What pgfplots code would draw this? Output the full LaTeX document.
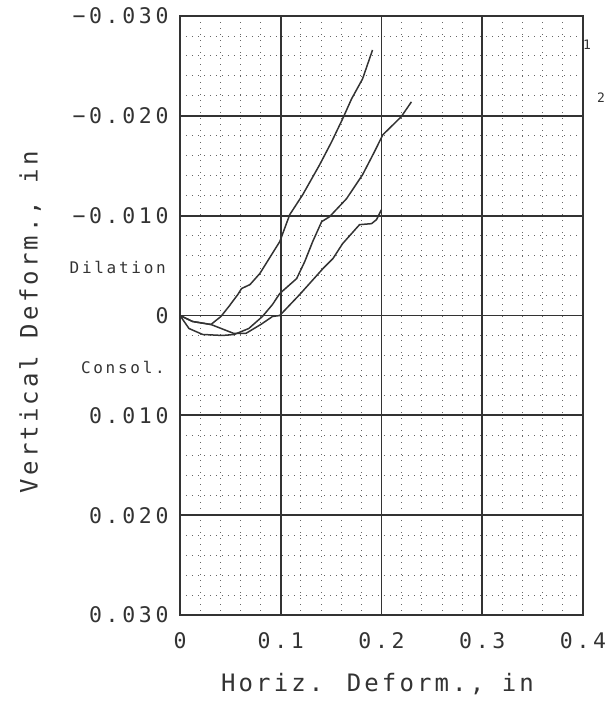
\documentclass[border=0pt]{standalone}
\usepackage{fontspec}
\usepackage{pgfplots}
\pgfplotsset{compat=1.18}
\newfontfamily\tickfont[LetterSpace=17]{DejaVu Sans Mono}
\newfontfamily\labfont[LetterSpace=13]{DejaVu Sans Mono}
\begin{document}
\begin{tikzpicture}
\path[use as bounding box] (-180bp,-87bp) rectangle (427bp,615bp);
\begin{axis}[
  at={(0,0)}, anchor=south west,
  scale only axis, width=403bp, height=599bp,
  xmin=0, xmax=0.4, ymin=-0.03, ymax=0.03,
  y dir=reverse,
  clip=false,
  scaled x ticks=false, scaled y ticks=false,
  xtick={0,0.1,0.2,0.3,0.4},
  xticklabels={0,0.1,0.2,0.3,0.4},
  ytick={-0.03,-0.02,-0.01,0,0.01,0.02,0.03},
  yticklabels={−0.030,−0.020,−0.010,0,0.010,0.020,0.030},
  minor x tick num=4, minor y tick num=4,
  major tick length=0pt, minor tick length=0pt,
  grid=both,
  major grid style={black!80, line width=1.7bp},
  minor grid style={black!60, line width=0.9bp, dash pattern=on 1.2bp off 4.8bp},
  axis line style={black!80, line width=1.9bp},
  ticklabel style={font=\tickfont\fontsize{21.5bp}{24bp}\selectfont, text=black!80},
  xticklabel style={yshift=-14bp},
  yticklabel style={xshift=-8bp},
  label style={font=\labfont\fontsize{24bp}{28bp}\selectfont, text=black!80},
  xlabel={Horiz. Deform., in},
  ylabel={Vertical Deform., in},
  xlabel style={at={(axis description cs:0.49,-0.115)}, anchor=center},
  ylabel style={at={(axis description cs:-0.372,0.489)}, anchor=center, rotate=0},
]
\addplot[black!80, line width=1.5bp] coordinates {
(0,0) (0.0125,0.0006) (0.0307,0.0009) (0.0406,0.0001) (0.0485,-0.0009)
(0.0574,-0.0021) (0.0611,-0.0027) (0.0695,-0.0031) (0.0792,-0.0042)
(0.0990,-0.0074) (0.1089,-0.0101) (0.1218,-0.0121) (0.1386,-0.0151)
(0.1505,-0.0174) (0.1614,-0.0197) (0.1703,-0.0217) (0.1812,-0.0237)
(0.1911,-0.0266)};
\addplot[black!80, line width=1.5bp] coordinates {
(0,0) (0.0089,0.0013) (0.0225,0.0019) (0.0423,0.0020) (0.0538,0.0019)
(0.0683,0.0013) (0.0818,0.0001) (0.0918,-0.0011) (0.0990,-0.0022)
(0.1158,-0.0037) (0.1238,-0.0054) (0.1317,-0.0074) (0.1406,-0.0094)
(0.1485,-0.0099) (0.1653,-0.0117) (0.1812,-0.0141) (0.1930,-0.0164)
(0.2013,-0.0181) (0.2195,-0.0199) (0.2297,-0.0214)};
\addplot[black!80, line width=1.5bp] coordinates {
(0,0) (0.0125,0.0006) (0.0307,0.0009) (0.0535,0.0018) (0.0653,0.0018)
(0.0802,0.0009) (0.0918,0.0001) (0.0990,0.0000) (0.1188,-0.0021)
(0.1419,-0.0047) (0.1518,-0.0057) (0.1614,-0.0072) (0.1782,-0.0091)
(0.1901,-0.0092) (0.1950,-0.0096) (0.2000,-0.0106)};
\node[anchor=east, font=\tickfont\fontsize{16bp}{18bp}\selectfont, text=black!80, inner sep=0pt] at (axis cs:-0.0139,-0.0048) {Dilation};
\node[anchor=east, font=\tickfont\fontsize{16bp}{18bp}\selectfont, text=black!80, inner sep=0pt] at (axis cs:-0.0149,0.0052) {Consol.};
\node[font=\tickfont\fontsize{13bp}{15bp}\selectfont, text=black!80, inner sep=0pt] at (axis cs:0.404,-0.0271) {1};
\node[font=\tickfont\fontsize{13bp}{15bp}\selectfont, text=black!80, inner sep=0pt] at (axis cs:0.4178,-0.0218) {2};
\node[font=\tickfont\fontsize{13bp}{15bp}\selectfont, text=black!80, inner sep=0pt] at (axis cs:0.4297,-0.0106) {3};
\end{axis}
\end{tikzpicture}
\end{document}
